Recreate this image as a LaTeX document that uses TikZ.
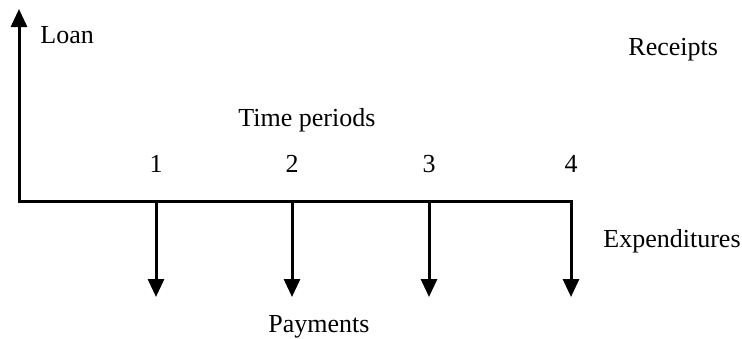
\documentclass[tikz,border=0pt]{standalone}
\usepackage{fontspec}
\setmainfont{Liberation Serif}
\usetikzlibrary{arrows.meta}
\begin{document}
\begin{tikzpicture}[x=0.5pt,y=-0.5pt,
  axis/.style={line width=1.5pt,line join=miter},
  arr/.style={-{Triangle[width=8pt,length=9pt]}},
  lbl/.style={inner sep=0pt,anchor=base west,font=\fontsize{13}{15}\selectfont},
  num/.style={inner sep=0pt,anchor=base,font=\fontsize{13}{15}\selectfont}]
\useasboundingbox (0,0) rectangle (742,338);
\coordinate (top) at (19,9);
\coordinate (O) at (19,201);
\coordinate (t1) at (156,201);
\coordinate (t2) at (292,201);
\coordinate (t3) at (429,201);
\coordinate (t4) at (571,201);
\coordinate (e1) at (156,297);
\coordinate (e2) at (292,297);
\coordinate (e3) at (429,297);
\coordinate (e4) at (571,297);
\draw[axis,{Triangle[width=8pt,length=9pt]}-{Triangle[width=8pt,length=9pt]}] (top) -- (O) -- (t4) -- (e4);
\draw[axis,arr] (t1) -- (e1);
\draw[axis,arr] (t2) -- (e2);
\draw[axis,arr] (t3) -- (e3);
\node[lbl] (loan) at (40,43) {Loan};
\node[lbl] (rec) at (628,55) {Receipts};
\node[lbl] (tp) at (238,126) {Time periods};
\node[num] (n1) at (156,172) {1};
\node[num] (n2) at (292,172) {2};
\node[num] (n3) at (429,172) {3};
\node[num] (n4) at (571,172) {4};
\node[lbl] (exp) at (603,247) {Expenditures};
\node[lbl] (pay) at (268,332) {Payments};
\end{tikzpicture}
\end{document}
